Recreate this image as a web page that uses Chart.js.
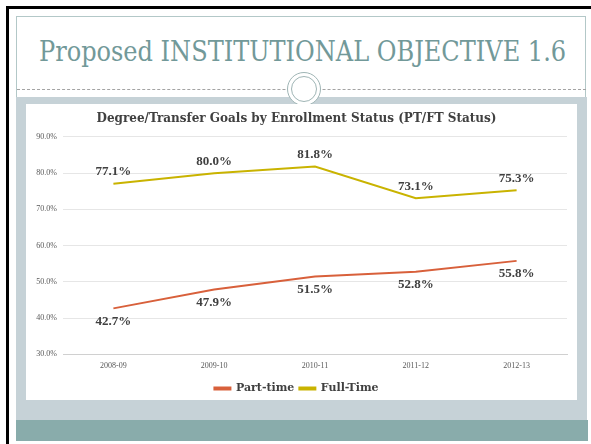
<!DOCTYPE html>
<html>
<head>
<meta charset="utf-8">
<script src="https://cdn.jsdelivr.net/npm/chart.js@4.4.1/dist/chart.umd.min.js"></script>
<style>
  body { margin: 0; width: 591px; height: 444px; background: #fff; overflow: hidden; position: relative; }
  .abs { position: absolute; }
  #blackFrame { left: 6px; top: 6px; width: 600px; height: 450px; border-left: 3px solid #000; border-top: 3px solid #000; }
  #thinFrame { left: 16px; top: 16px; width: 570px; height: 425px; border: 1px solid #b3c8c8; box-sizing: border-box; }
  #panel { left: 16px; top: 97px; width: 571px; height: 323px; background: #c6d2d7; }
  #footer { left: 16px; top: 420px; width: 572px; height: 21px; background: #89acab; }
  #dash { left: 17px; top: 89px; width: 569px; border-top: 1px dashed #a3a3a3; }
  #ringOuter { left: 287px; top: 72px; width: 34px; height: 34px; border-radius: 50%; border: 1.5px solid #9fb5b5; background: #fff; box-sizing: border-box; }
  #ringInner { left: 291px; top: 76px; width: 26px; height: 26px; border-radius: 50%; border: 1.5px solid #9fb5b5; box-sizing: border-box; }
  #slideTitle { left: 39px; top: 38px; font-family: "DejaVu Serif", serif; font-stretch: condensed; font-size: 28px; line-height: 28px; color: #729999; white-space: nowrap; transform-origin: left top; }
  #chartBox { left: 26px; top: 104px; width: 551px; height: 296px; background: #fff; overflow: hidden; }
</style>
</head>
<body>
<div id="blackFrame" class="abs"></div>
<div id="thinFrame" class="abs"></div>
<div id="panel" class="abs"></div>
<div id="footer" class="abs"></div>
<div id="dash" class="abs"></div>
<div id="ringOuter" class="abs"></div>
<div id="ringInner" class="abs"></div>
<div id="slideTitle" class="abs">Proposed INSTITUTIONAL OBJECTIVE 1.6</div>
<div id="chartBox" class="abs"><canvas id="enrollChart" width="551" height="300"></canvas></div>
<script>
// data
const years = ['2008-09', '2009-10', '2010-11', '2011-12', '2012-13'];
const partTime = [42.7, 47.9, 51.5, 52.8, 55.8];
const fullTime = [77.1, 80.0, 81.8, 73.1, 75.3];

// squeeze the slide title to the width it has in the picture
const t = document.getElementById('slideTitle');
t.style.transform = 'scaleX(' + (527 / t.offsetWidth) + ')';

// percent labels above / below each point
const valueLabels = {
    id: 'valueLabels',
    afterDatasetsDraw(chart) {
        const ctx = chart.ctx;
        ctx.save();
        ctx.font = 'bold 13px "Liberation Serif"';
        ctx.fillStyle = '#404040';
        ctx.textAlign = 'center';
        ctx.textBaseline = 'middle';
        chart.data.datasets.forEach((ds, i) => {
            const meta = chart.getDatasetMeta(i);
            const off = ds.label === 'Full-Time' ? -12 : 13;
            meta.data.forEach((pt, j) => {
                ctx.fillText(ds.data[j].toFixed(1) + '%', pt.x, pt.y + off);
            });
        });
        ctx.restore();
    }
};

new Chart(document.getElementById('enrollChart'), {
    type: 'line',
    data: {
        labels: years,
        datasets: [{
            label: 'Part-time',
            data: partTime,
            borderColor: '#d8603b',
            backgroundColor: '#d8603b',
            borderWidth: 2,
            pointRadius: 0,
            tension: 0
        }, {
            label: 'Full-Time',
            data: fullTime,
            borderColor: '#c9b300',
            backgroundColor: '#c9b300',
            borderWidth: 2,
            pointRadius: 0,
            tension: 0
        }]
    },
    options: {
        responsive: false,
        animation: false,
        layout: { padding: { left: 0, right: 10, top: 6, bottom: 0 } },
        plugins: {
            title: {
                display: true,
                text: 'Degree/Transfer Goals by Enrollment Status (PT/FT Status)',
                color: '#404040',
                font: { family: '"DejaVu Serif"', size: 12, weight: 'bold' },
                padding: { top: 2, bottom: 10.5 }
            },
            legend: {
                position: 'bottom',
                labels: {
                    color: '#404040',
                    font: { family: '"DejaVu Serif"', size: 11, weight: 'bold' },
                    boxWidth: 16,
                    boxHeight: 2,
                    padding: 5
                }
            },
            tooltip: { enabled: false }
        },
        scales: {
            x: {
                offset: true,
                grid: { display: false, drawTicks: false },
                border: { display: true, color: '#d0d0d0' },
                ticks: { color: '#595959', font: { family: '"Liberation Serif"', size: 8 }, padding: 7 }
            },
            y: {
                min: 30,
                max: 90,
                afterFit: (s) => { s.width = 37; },
                grid: { color: '#e6e6e6', drawTicks: false },
                border: { display: false },
                ticks: {
                    stepSize: 10,
                    padding: 6,
                    color: '#595959',
                    font: { family: '"Liberation Serif"', size: 8 },
                    callback: (v) => v.toFixed(1) + '%'
                }
            }
        }
    },
    plugins: [valueLabels]
});
</script>
</body>
</html>
